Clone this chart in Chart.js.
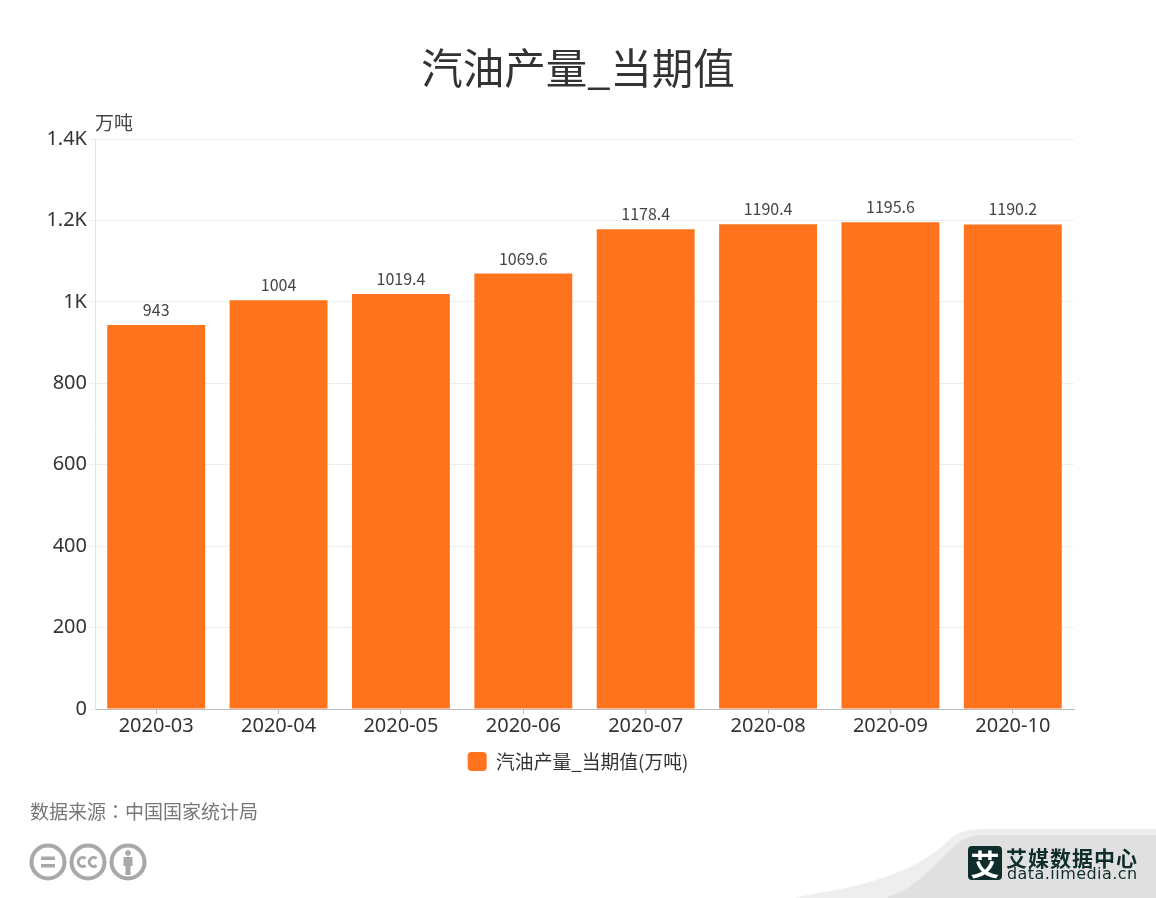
<!DOCTYPE html>
<html lang="zh"><head><meta charset="utf-8">
<style>
html,body{margin:0;padding:0;background:#fff;overflow:hidden}
#wrap{position:relative;width:1156px;height:898px;font-family:"Noto Sans CJK SC",sans-serif}
canvas{position:absolute;left:0;top:0}
#source{position:absolute;left:30px;top:797px;font-size:19px;line-height:28px;color:#777;white-space:nowrap}
#source span{font-family:"Noto Sans CJK TC",sans-serif}
svg{position:absolute}
#b1{position:absolute;left:1006px;top:844px;font-size:21px;font-weight:700;line-height:26px;color:#0f2d2a;letter-spacing:1px;white-space:nowrap}
#b2{position:absolute;left:1007px;top:864px;font-family:"DejaVu Sans",sans-serif;font-size:16px;line-height:20px;color:#0f2d2a;letter-spacing:.45px;white-space:nowrap}
#mark{position:absolute;left:968px;top:846px;width:34px;height:34px;border-radius:4px;background:#0f2d2a;color:#fff;font-size:29px;font-weight:700;line-height:34px;text-align:center}
</style></head><body>
<div id="wrap">
<svg width="1156" height="898" style="left:0;top:0">
<path d="M796 897 C840 890 885 882 923 860 C940 850 948 840 956 835 C962 831 970 829 985 829 L1156 829 L1156 898 L796 898Z" fill="#eeeeee"/>
<path d="M888 897 C915 888 930 870 947 853 C958 842 966 835 985 835 L1156 835 L1156 898 L888 898Z" fill="#e0e0e0"/>
<g fill="none" stroke="#a8a8a8" stroke-width="4">
<circle cx="48" cy="862" r="16.5"/><circle cx="88" cy="862" r="16.5"/><circle cx="128" cy="862" r="16.5"/>
</g>
<g fill="#a8a8a8">
<rect x="41" y="856.5" width="14" height="3.5"/><rect x="41" y="864" width="14" height="3.5"/>
<circle cx="128" cy="853" r="2.8"/><path d="M123.5 857h9v9h-2v9h-5v-9h-2z"/>
</g>
<g fill="none" stroke="#a8a8a8" stroke-width="3">
<path d="M85.5 858.5a4.5 4.5 0 1 0 0 7"/><path d="M96.5 858.5a4.5 4.5 0 1 0 0 7"/>
</g>
</svg>
<canvas id="c" width="1156" height="898"></canvas>
<div id="source">数据来源<span lang="zh-Hant">：</span>中国国家统计局</div>
<div id="mark">艾</div><div id="b1">艾媒数据中心</div><div id="b2">data.iimedia.cn</div>
</div>
<script src="https://cdn.jsdelivr.net/npm/chart.js@4/dist/chart.umd.js"></script>
<script>
const categories=["2020-03","2020-04","2020-05","2020-06","2020-07","2020-08","2020-09","2020-10"];
const seriesValues=[943,1004,1019.4,1069.6,1178.4,1190.4,1195.6,1190.2];
const seriesName="汽油产量_当期值(万吨)";
const chartTitle="汽油产量_当期值";
const unitLabel="万吨";
const FONT='"Noto Sans CJK SC",sans-serif';
const TICKFONT='"Noto Sans",sans-serif';
const overlay={id:'overlay',afterDatasetsDraw(ch){
  const c=ch.ctx,m=ch.getDatasetMeta(0);
  c.save();c.textAlign='center';c.textBaseline='alphabetic';c.fillStyle='#444';c.font='16px '+FONT;
  m.data.forEach((b,i)=>c.fillText(String(seriesValues[i]),b.x,b.y-9));
  c.textAlign='left';c.font='19px '+FONT;c.fillStyle='#444';
  c.fillText(unitLabel,ch.chartArea.left,130);
  c.restore();
}};
new Chart(document.getElementById('c'),{
 type:'bar',
 data:{labels:categories,datasets:[{label:seriesName,data:seriesValues,backgroundColor:'#ff731d',borderWidth:0,categoryPercentage:.8,barPercentage:1}]},
 plugins:[overlay],
 options:{responsive:false,animation:false,
  layout:{padding:{left:0,right:0,top:0,bottom:117}},
  plugins:{
   tooltip:{enabled:false},
   title:{display:true,text:chartTitle,color:'#333',font:{family:FONT,size:41.5,weight:'normal'},padding:{top:43,bottom:46.2}},
   legend:{position:'bottom',labels:{color:'#333',font:{family:FONT,size:18.8},boxWidth:19,boxHeight:19,useBorderRadius:true,borderRadius:4,padding:12}}
  },
  scales:{
   x:{afterFit(s){s.height=31},
      grid:{drawOnChartArea:false,offset:false,color:'#bbb',tickLength:5},
      border:{color:'#bbb'},
      ticks:{color:'#333',font:{family:TICKFONT,size:20},padding:0,maxRotation:0,autoSkip:false}},
   y:{min:0,max:1400,afterFit(s){s.width=95},
      grid:{color:'#eee',tickLength:6},border:{color:'#e4e4e4'},
      ticks:{stepSize:200,color:'#333',font:{family:TICKFONT,size:20},padding:2,
        callback:v=>v>=1000?(v/1000)+'K':String(v)}},
   rightGutter:{position:'right',display:true,afterFit(s){s.width=82},
      grid:{display:false},border:{display:false},ticks:{display:false}}
  }
 }
});
</script>
</body></html>
